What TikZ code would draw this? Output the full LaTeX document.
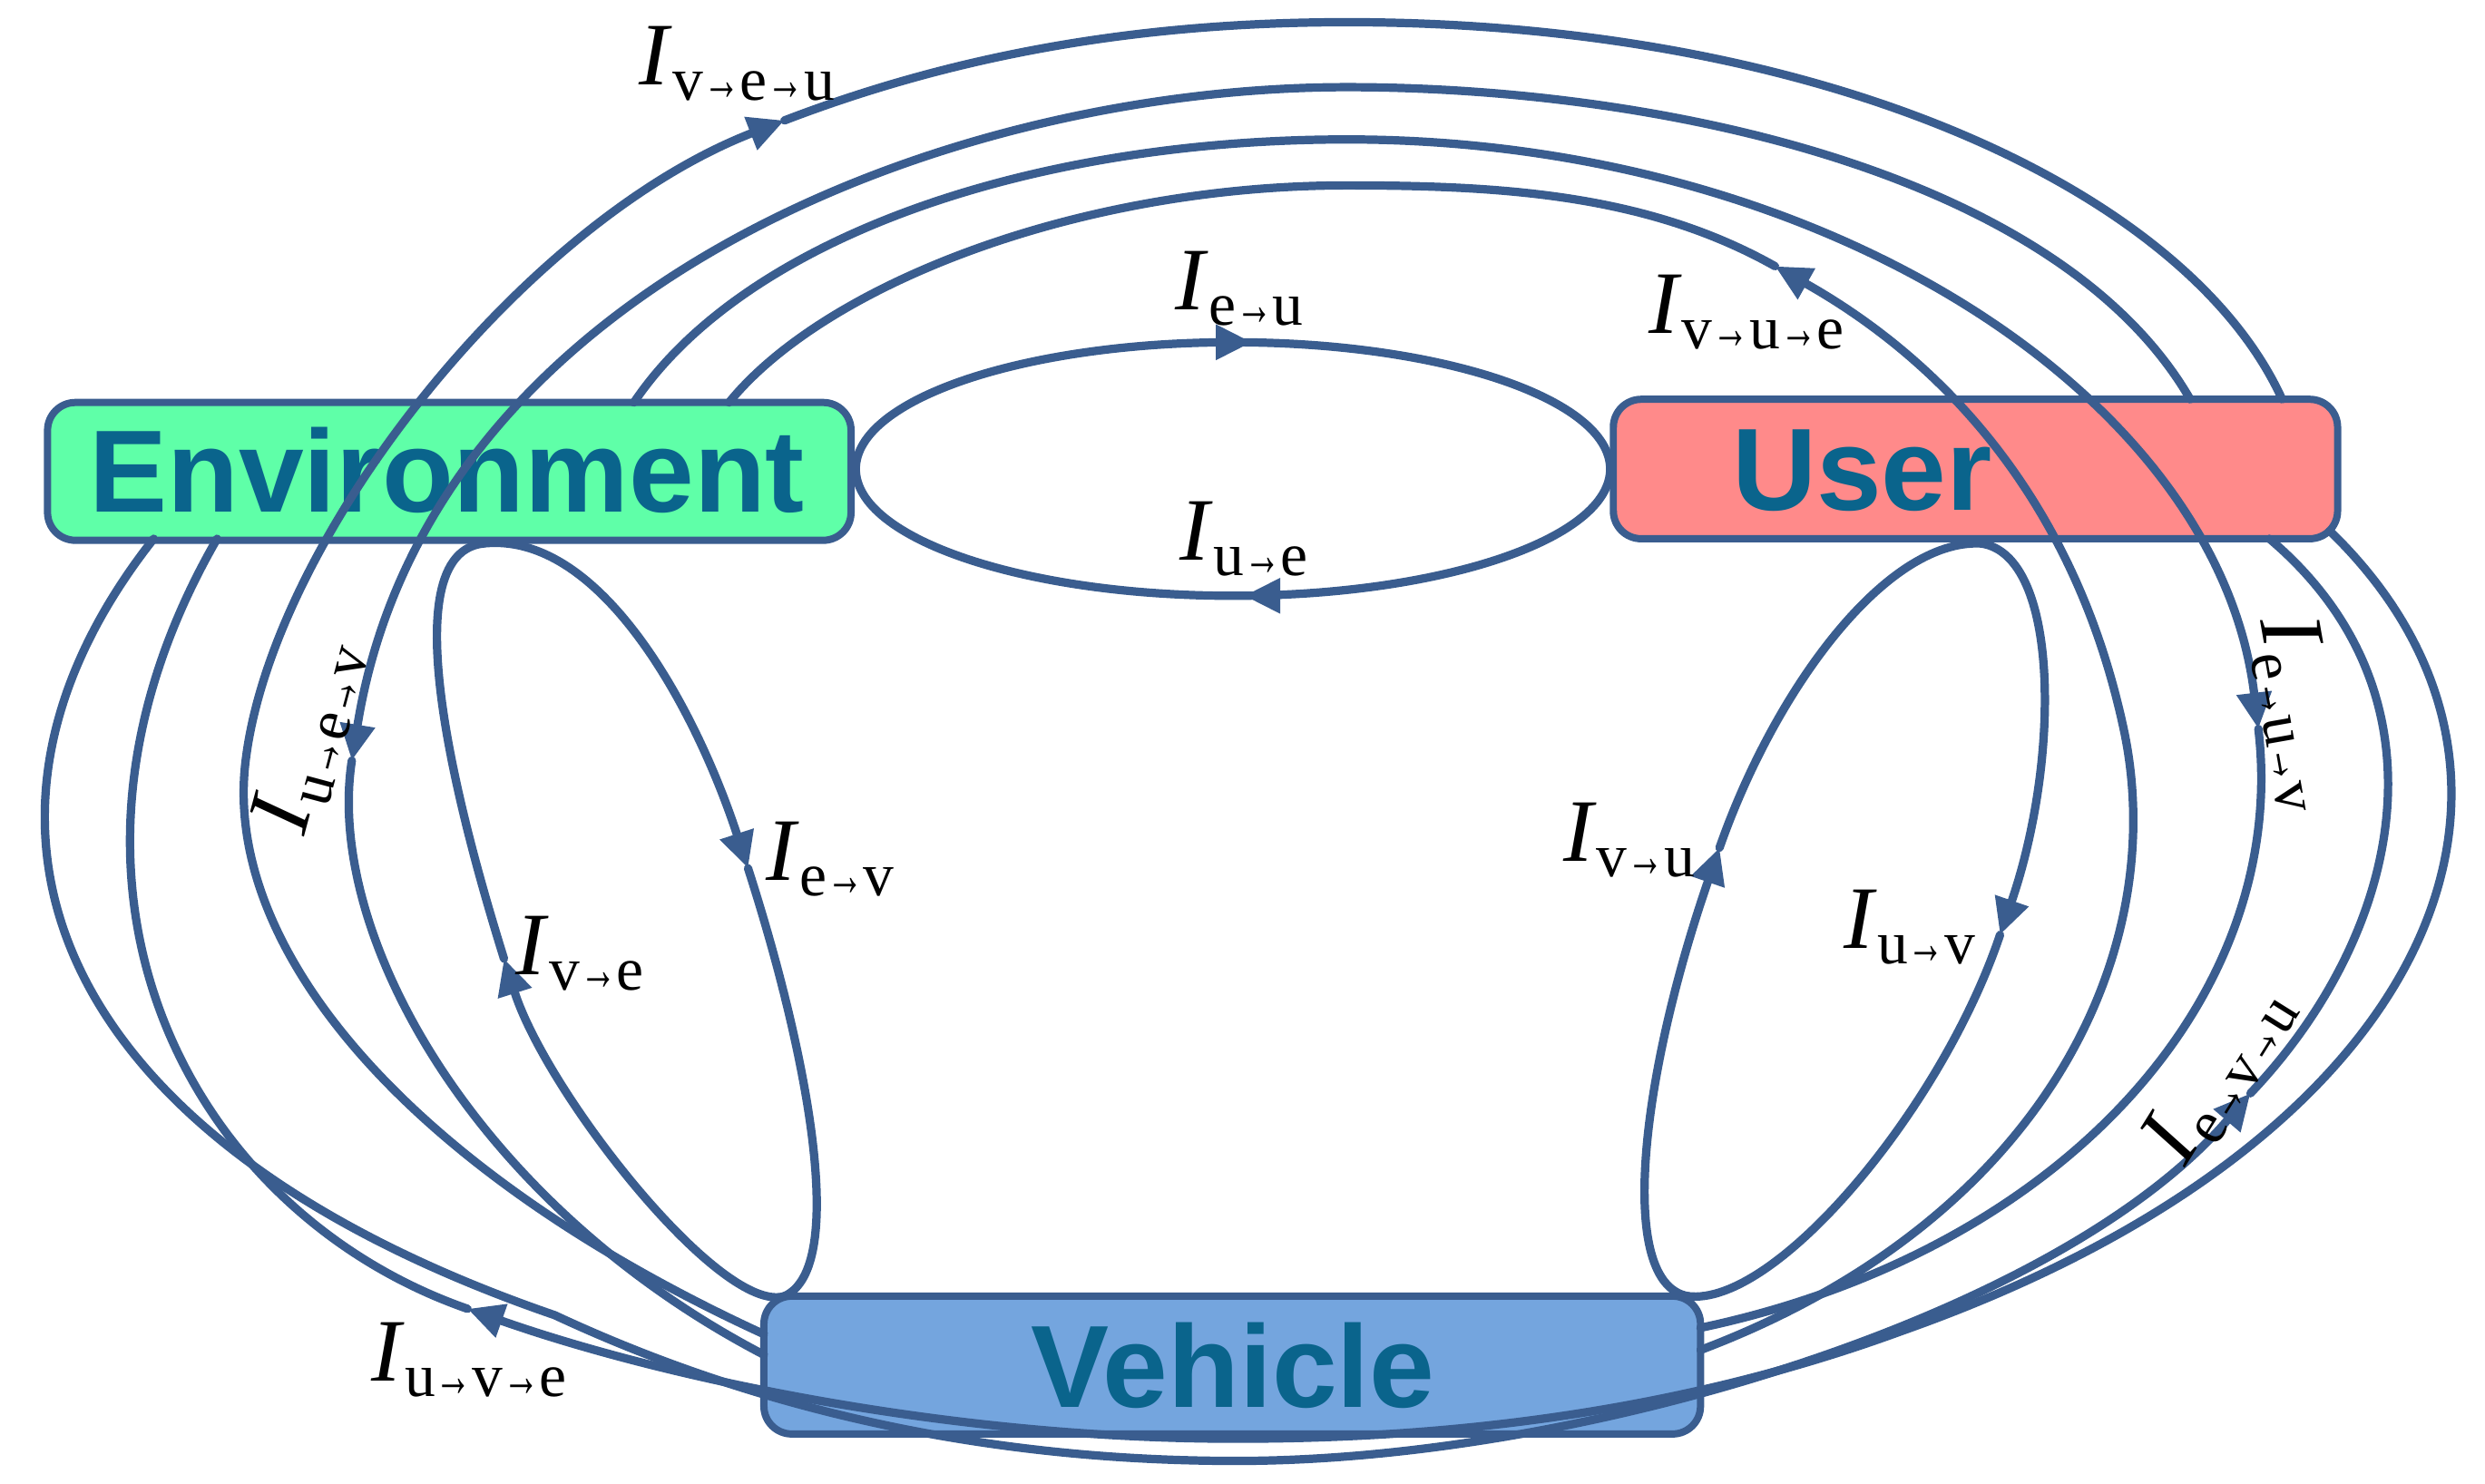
\documentclass[tikz,border=0pt]{standalone}
\usepackage{fontspec}
\setmainfont{Liberation Serif}
\newfontfamily\boxfont{Liberation Sans}
\usetikzlibrary{arrows.meta}
\definecolor{ln}{RGB}{58,93,143}
\definecolor{tx}{RGB}{10,100,140}
\definecolor{envc}{RGB}{95,255,168}
\definecolor{usrc}{RGB}{255,138,138}
\definecolor{vehc}{RGB}{116,165,222}
\newcommand{\ar}{\scalebox{0.6}[1]{→}}
\newcommand{\lab}[1]{{\fontsize{16}{16}\selectfont\textit{I}\fontsize{11}{11}\selectfont\raisebox{-0.55ex}{#1}}}
\tikzset{
  box/.style={draw=ln,line width=1.3pt,rounded corners=5pt},
  btxt/.style={font=\boxfont\bfseries\fontsize{21}{21}\selectfont,text=tx},
  flow/.style={draw=ln,line width=1.5pt,line cap=round},
  arr/.style={flow,-{Triangle[length=6.5pt,width=6pt]}},
  lbl/.style={inner sep=0pt}
}
\begin{document}
\begin{tikzpicture}[x=0.01cm,y=-0.01cm]
\useasboundingbox (0,0) rectangle (1568,936);
% boxes
\path[box,fill=envc] (30,254) rectangle (537,341);
\path[box,fill=usrc] (1018,252) rectangle (1475,340);
\path[box,fill=vehc] (482,818) rectangle (1073,905);
\node[btxt] (env) at (282,297) {Environment};
\node[btxt] (usr) at (1175,297) {User};
\node[btxt] (veh) at (778,862) {Vehicle};
% named points
\coordinate (c) at (778,296);
\coordinate (a1) at (785,376); \coordinate (a2) at (790,216);
% center ellipse
\draw[flow] (c) ellipse [x radius=238, y radius=80];
\draw[arr] (800,376) -- (a1);
\draw[arr] (770,216) -- (a2);
% left loop
\coordinate (lt) at (305,343); \coordinate (la) at (472,548); \coordinate (lb) at (318,605); \coordinate (lv) at (495,818);
\draw[arr] (lt) .. controls (380,335) and (440,450) .. (la);
\draw[flow] (la) .. controls (510,666) and (535,800) .. (lv);
\draw[arr] (lv) .. controls (455,830) and (345,690) .. (lb);
\draw[flow] (lb) .. controls (301,550) and (240,350) .. (lt);
% right loop
\coordinate (rt) at (1250,343); \coordinate (ra) at (1262,590); \coordinate (rb) at (1085,535); \coordinate (rv) at (1065,818);
\draw[arr] (rt) .. controls (1300,350) and (1300,480) .. (ra);
\draw[flow] (ra) .. controls (1225,700) and (1120,825) .. (rv);
\draw[arr] (rv) .. controls (1020,810) and (1035,680) .. (rb);
\draw[flow] (rb) .. controls (1120,435) and (1190,340) .. (rt);
% arc 1 v->e->u
\coordinate (v1) at (482,842); \coordinate (p1) at (495,76); \coordinate (u1) at (1440,252);
\draw[arr] (v1) .. controls (260,740) and (140,600) .. (155,480) .. controls (172,340) and (330,140) .. (p1);
\draw[flow] (p1) .. controls (620,28) and (740,14) .. (850,14) .. controls (1150,14) and (1380,120) .. (u1);
% arc 2 u->e->v
\coordinate (u2) at (1382,252); \coordinate (p2) at (222,480); \coordinate (v2) at (482,855);
\draw[arr] (u2) .. controls (1300,110) and (1050,55) .. (850,55) .. controls (600,55) and (270,180) .. (p2);
\draw[flow] (p2) .. controls (205,590) and (300,760) .. (v2);
% arc 3 e->u->v
\coordinate (e3) at (400,254); \coordinate (p3) at (1425,460); \coordinate (v3) at (1073,838);
\draw[arr] (e3) .. controls (470,150) and (650,88) .. (850,88) .. controls (1150,88) and (1400,250) .. (p3);
\draw[flow] (p3) .. controls (1445,630) and (1300,790) .. (v3);
% arc 4 v->u->e
\coordinate (v4) at (1073,852); \coordinate (p4) at (1120,168); \coordinate (e4) at (460,254);
\draw[arr] (v4) .. controls (1290,770) and (1370,600) .. (1340,460) .. controls (1310,320) and (1230,230) .. (p4);
\draw[flow] (p4) .. controls (1040,123) and (950,117) .. (850,117) .. controls (680,117) and (520,180) .. (e4);
% U a e->v->u
\coordinate (e5) at (97,340); \coordinate (p5) at (1420,690); \coordinate (u5) at (1432,340);
\draw[arr] (e5) .. controls (-45,520) and (30,720) .. (350,830) .. controls (500,900) and (650,922) .. (780,922) .. controls (1000,922) and (1300,830) .. (p5);
\draw[flow] (p5) .. controls (1515,590) and (1550,440) .. (u5);
% U b u->v->e
\coordinate (u6) at (1470,335); \coordinate (p6) at (295,826); \coordinate (e6) at (137,340);
\draw[arr] (u6) .. controls (1630,490) and (1540,720) .. (1200,840) .. controls (1050,895) and (900,908) .. (780,908) .. controls (600,908) and (420,870) .. (p6);
\draw[flow] (p6) .. controls (120,765) and (10,560) .. (e6);
% labels
\node[lbl] (l1) at (465,40) {\lab{v\ar e\ar u}};
\node[lbl] (l2) at (782,182) {\lab{e\ar u}};
\node[lbl] (l3) at (1102,197) {\lab{v\ar u\ar e}};
\node[lbl] (l4) at (785,340) {\lab{u\ar e}};
\node[lbl,rotate=75] (l5) at (195,465) {\lab{u\ar e\ar v}};
\node[lbl,rotate=-80] (l6) at (1450,450) {\lab{e\ar u\ar v}};
\node[lbl] (l7) at (524,542) {\lab{e\ar v}};
\node[lbl] (l8) at (366,602) {\lab{v\ar e}};
\node[lbl] (l9) at (1028,530) {\lab{v\ar u}};
\node[lbl] (l10) at (1205,585) {\lab{u\ar v}};
\node[lbl,rotate=58] (l11) at (1400,678) {\lab{e\ar v\ar u}};
\node[lbl] (l12) at (296,858) {\lab{u\ar v\ar e}};
\end{tikzpicture}
\end{document}
